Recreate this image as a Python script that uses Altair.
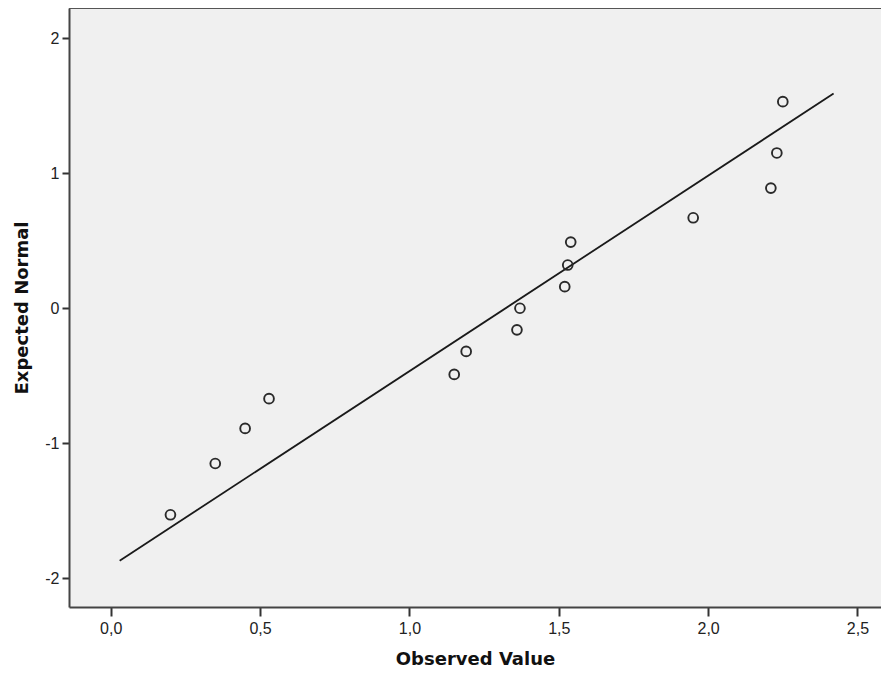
import altair as alt
import pandas as pd

# Observed values (x) and expected normal quantiles (y)
observed = [0.20, 0.35, 0.45, 0.53, 1.15, 1.19, 1.36, 1.37, 1.52, 1.53, 1.54, 1.95, 2.21, 2.23, 2.25]
expected = [-1.53, -1.15, -0.89, -0.67, -0.49, -0.32, -0.16, 0.0, 0.16, 0.32, 0.49, 0.67, 0.89, 1.15, 1.53]

# Reference line end points
line_x = [0.03, 2.42]
line_y = [-1.87, 1.59]

x_ticks = [0.0, 0.5, 1.0, 1.5, 2.0, 2.5]
y_ticks = [-2, -1, 0, 1, 2]

pts = pd.DataFrame({"obs": observed, "exp": expected})
ln = pd.DataFrame({"obs": line_x, "exp": line_y})

W, H = 812, 599

xscale = alt.Scale(domain=[-0.1396, 2.5787], nice=False, zero=False)
yscale = alt.Scale(domain=[-2.213, 2.224], nice=False, zero=False)

xaxis = alt.Axis(
    title="Observed Value", values=x_ticks, grid=False,
    labelExpr="replace(format(datum.value, '.1f'), '.', ',')",
    tickSize=9, labelPadding=4, titleBaseline="alphabetic", titleY=57,
)
yaxis = alt.Axis(
    title="Expected Normal", values=y_ticks, grid=False,
    labelExpr="datum.value < 0 ? '-' + abs(datum.value) : '' + datum.value",
    tickSize=7, labelPadding=3, titleBaseline="alphabetic", titleX=-42,
)

line = alt.Chart(ln).mark_line(color="#1a1a1a", strokeWidth=1.8, clip=True).encode(
    x=alt.X("obs:Q", scale=xscale, axis=xaxis),
    y=alt.Y("exp:Q", scale=yscale, axis=yaxis),
)

points = alt.Chart(pts).mark_point(
    shape="circle", filled=False, color="#2a2a2a", size=95, strokeWidth=1.9, opacity=1
).encode(
    x=alt.X("obs:Q", scale=xscale),
    y=alt.Y("exp:Q", scale=yscale),
)

top_border = alt.Chart(pd.DataFrame({"a": [0]})).mark_rule(
    color="#555555", strokeWidth=2
).encode(x=alt.value(0), x2=alt.value(W), y=alt.value(0))

chart = (
    alt.layer(line, points, top_border)
    .properties(
        width=W, height=H,
        autosize=alt.AutoSizeParams(type="none"),
        padding={"left": 61, "top": 0, "right": 0, "bottom": 62},
        background="white",
    )
    .configure_view(fill="#f0f0f0", stroke=None)
    .configure_axis(
        domainColor="#444444", domainWidth=2,
        tickColor="#333333", tickWidth=2,
        labelFont="Liberation Sans", labelFontSize=16, labelColor="#222222",
        titleFont="DejaVu Sans", titleFontSize=18, titleFontWeight="bold", titleColor="#111111",
    )
)

chart.save("out.html", embed_options={"renderer": "svg", "actions": False})
